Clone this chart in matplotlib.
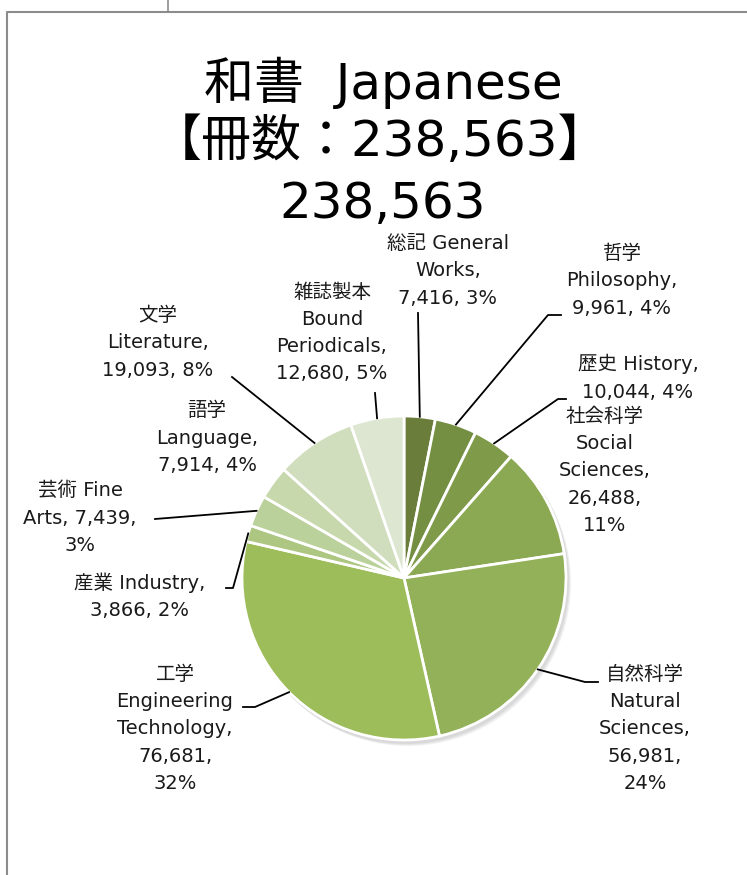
import matplotlib
matplotlib.use("Agg")
import matplotlib.pyplot as plt
import numpy as np

plt.rcParams['font.family'] = ['DejaVu Sans', 'Noto Sans CJK JP']

# data
labels_ja = ["総記", "哲学", "歴史", "社会科学", "自然科学", "工学",
             "産業", "芸術", "語学", "文学", "雑誌製本"]
labels_en = ["General Works", "Philosophy", "History", "Social Sciences",
             "Natural Sciences", "Engineering Technology", "Industry",
             "Fine Arts", "Language", "Literature", "Bound Periodicals"]
counts = [7416, 9961, 10044, 26488, 56981, 76681, 3866, 7439, 7914, 19093, 12680]
percents = [3, 4, 4, 11, 24, 32, 2, 3, 4, 8, 5]
colors = ["#6a7d3a", "#748e42", "#7f9b49", "#8ba852", "#93b158", "#9dbc5a",
          "#adc783", "#bbd19b", "#c7d9ac", "#d1debe", "#dde6d0"]
total = sum(counts)

# label text blocks (line breaks as in the original)
label_texts = [
    "総記 General\nWorks,\n7,416, 3%",
    "哲学\nPhilosophy,\n9,961, 4%",
    "歴史 History,\n10,044, 4%",
    "社会科学\nSocial\nSciences,\n26,488,\n11%",
    "自然科学\nNatural\nSciences,\n56,981,\n24%",
    "工学\nEngineering\nTechnology,\n76,681,\n32%",
    "産業 Industry,\n3,866, 2%",
    "芸術 Fine\nArts, 7,439,\n3%",
    "語学\nLanguage,\n7,914, 4%",
    "文学\nLiterature,\n19,093, 8%",
    "雑誌製本\nBound\nPeriodicals,\n12,680, 5%",
]

W, H = 747, 875
fig = plt.figure(figsize=(W / 100, H / 100), dpi=100)
ax = fig.add_axes([0, 0, 1, 1])
ax.axis('off')


def py(y):
    return H - y


# frame lines
ax.plot([7, 7, W], [py(H), py(12), py(12)], color="#8c8c8c", lw=1.5)
ax.plot([168, 168], [py(0), py(12)], color="#8c8c8c", lw=1.2)

# title
ax.text(383, py(83), "和書  Japanese", ha='center', va='center', fontsize=36)
ax.text(380, py(142), "【冊数：238,563】", ha='center', va='center', fontsize=36)
ax.text(383, py(204), f"{total:,}", ha='center', va='center', fontsize=36)

cx, cy, r = 404, py(578), 162

# soft shadow
for i in range(3):
    sh = plt.Circle((cx + 2 + i, cy - 3 - i), r + 1, color='black', alpha=0.05, lw=0)
    ax.add_patch(sh)

wedges, _ = ax.pie(counts, colors=colors, startangle=90, counterclock=False,
                   center=(cx, cy), radius=r,
                   wedgeprops=dict(edgecolor='white', linewidth=2))
ax.set_xlim(0, W)
ax.set_ylim(0, H)
ax.set_aspect('equal')

# label centers (pixel coords) and leader elbows/ends
label_pos = [(448, 271), (622, 281), (638, 378), (605, 471), (645, 729),
             (175, 729), (140, 596), (80, 518), (207, 438), (158, 343),
             (332, 333)]
leaders = [
    [(418, 313)],
    [(548, 315), (561, 315)],
    [(558, 399), (566, 399)],
    None,
    [(585, 682), (598, 682)],
    [(255, 707), (243, 707)],
    [(233, 588), (226, 588)],
    [(155, 519)],
    None,
    [(232, 377)],
    [(375, 393)],
]

for w, txt, pos, ld in zip(wedges, label_texts, label_pos, leaders):
    ax.text(pos[0], py(pos[1]), txt, ha='center', va='center',
            fontsize=14, linespacing=1.55, color='#1a1a1a')
    if ld:
        ang = np.deg2rad((w.theta1 + w.theta2) / 2)
        x0 = cx + r * np.cos(ang)
        y0 = cy + r * np.sin(ang)
        xs = [x0] + [p[0] for p in ld]
        ys = [y0] + [py(p[1]) for p in ld]
        ax.plot(xs, ys, color='black', lw=1.3)

fig.savefig("out.png", dpi=100, facecolor='white')
